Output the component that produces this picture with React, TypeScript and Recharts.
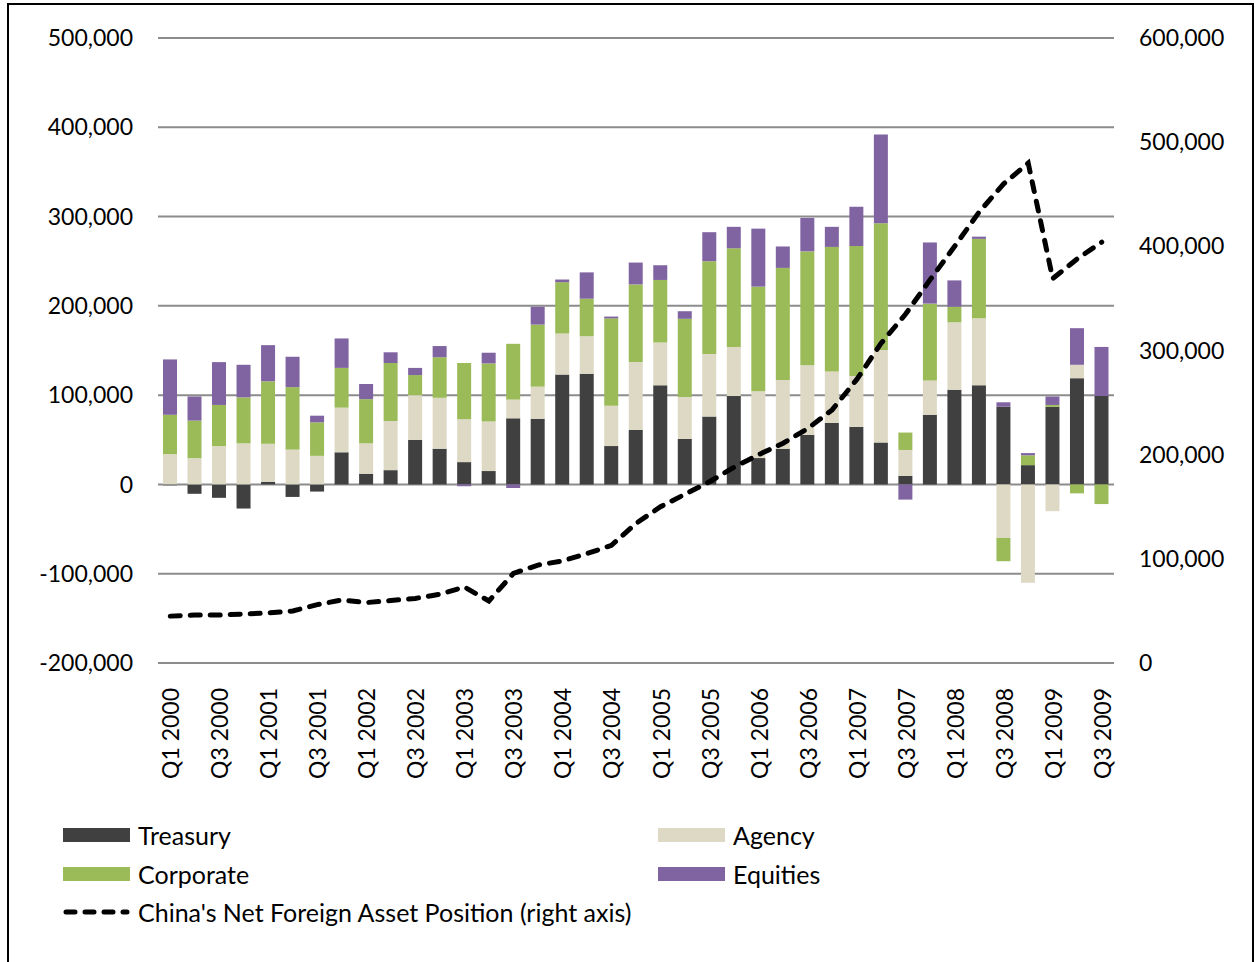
import { ComposedChart, Bar, Line, XAxis, YAxis, CartesianGrid } from "recharts";

const quarters = [
  "Q1 2000", "Q2 2000", "Q3 2000", "Q4 2000",
  "Q1 2001", "Q2 2001", "Q3 2001", "Q4 2001",
  "Q1 2002", "Q2 2002", "Q3 2002", "Q4 2002",
  "Q1 2003", "Q2 2003", "Q3 2003", "Q4 2003",
  "Q1 2004", "Q2 2004", "Q3 2004", "Q4 2004",
  "Q1 2005", "Q2 2005", "Q3 2005", "Q4 2005",
  "Q1 2006", "Q2 2006", "Q3 2006", "Q4 2006",
  "Q1 2007", "Q2 2007", "Q3 2007", "Q4 2007",
  "Q1 2008", "Q2 2008", "Q3 2008", "Q4 2008",
  "Q1 2009", "Q2 2009", "Q3 2009",
];

const treasury = [
  -1000, -10500, -15000, -27000, 3000, -14000, -8000, 36000, 12000, 16000,
  50000, 40000, 25000, 15000, 74000, 73500, 123000, 124000, 43000, 61000,
  111000, 51000, 76000, 99000, 29500, 40000, 55500, 69000, 64500, 47000,
  9600, 78000, 106000, 111000, 87000, 21600, 87000, 119000, 99000,
];

const agency = [
  34000, 29500, 43000, 46000, 42500, 39000, 32000, 50000, 34000, 55000,
  50000, 57000, 48000, 55500, 21000, 36000, 46000, 42000, 45000, 76000,
  48000, 47000, 70000, 55000, 75000, 77000, 78000, 57500, 57000, 103500,
  29000, 38500, 75500, 75000, -60000, -110000, -30000, 15000, 0,
];

const corporate = [
  44000, 42000, 46000, 51500, 70000, 70000, 37500, 44500, 49500, 65000,
  22500, 45500, 63000, 65000, 62500, 69500, 57500, 42000, 98000, 87000,
  70000, 87500, 104000, 110500, 117000, 125500, 127500, 139500, 145500, 142000,
  19500, 86000, 17500, 89000, -26000, 11000, 2000, -10000, -22000,
];

const equities = [
  62000, 27000, 48000, 36500, 40500, 34000, 7500, 33000, 17000, 12000,
  8000, 12500, -2000, 12000, -4000, 20000, 3000, 29500, 2000, 24500,
  16500, 8500, 32500, 24000, 65000, 24000, 37500, 22500, 44000, 99500,
  -17000, 68500, 29500, 2500, 5000, 2500, 9500, 41000, 55000,
];

// China's net foreign asset position, right axis
const netForeignAssets = [
  45000, 46000, 46000, 47000, 48000, 50000, 56000, 60500, 58000, 60000,
  62000, 66000, 73000, 59500, 86000, 94000, 98000, 105000, 113000, 134000,
  150000, 162000, 174000, 188000, 200000, 211000, 225000, 243000, 272000, 307000,
  335000, 368000, 400000, 433000, 460000, 480000, 369000, 388000, 404000,
];

const leftTicks = [-200000, -100000, 0, 100000, 200000, 300000, 400000, 500000];
const rightTicks = [0, 100000, 200000, 300000, 400000, 500000, 600000];

const data = quarters.map((q, i) => ({
  quarter: q,
  treasury: treasury[i],
  agency: agency[i],
  corporate: corporate[i],
  equities: equities[i],
  nfa: netForeignAssets[i],
}));

const FONT = "Lato, 'Open Sans', sans-serif";
const fmt = (v: number) => v.toLocaleString("en-US");

const QuarterTick = (props: any) => {
  const { x, y, payload } = props;
  return (
    <text
      x={x}
      y={y}
      transform={`rotate(-90 ${x} ${y})`}
      textAnchor="end"
      dominantBaseline="central"
      fontFamily={FONT}
      fontSize={23}
      fill="#000"
    >
      {payload.value}
    </text>
  );
};

const legendItems = [
  { name: "Treasury", color: "#404040", left: 63, top: 835 },
  { name: "Agency", color: "#ddd9c4", left: 658, top: 835 },
  { name: "Corporate", color: "#9bbb59", left: 63, top: 874 },
  { name: "Equities", color: "#8064a2", left: 658, top: 874 },
];

export default function App() {
  return (
    <div style={{ position: "absolute", left: 0, top: 0, width: 1255, height: 962, fontFamily: FONT }}>
      <div
        style={{
          position: "absolute",
          left: 7,
          top: 3,
          width: 1247,
          height: 959,
          border: "2px solid #000",
          borderBottom: "none",
          boxSizing: "border-box",
        }}
      />
      <div style={{ position: "absolute", left: 0, top: 0 }}>
        <ComposedChart
          width={1240}
          height={800}
          data={data}
          stackOffset="sign"
          margin={{ top: 38, right: 0, bottom: 17, left: 0 }}
        >
          <CartesianGrid yAxisId="left" vertical={false} stroke="#8c8c8c" strokeWidth={2} />
          <XAxis
            dataKey="quarter"
            interval={1}
            height={120}
            axisLine={false}
            tickLine={false}
            tickSize={0}
            tickMargin={25}
            tick={<QuarterTick />}
          />
          <YAxis
            yAxisId="left"
            width={158}
            domain={[-200000, 500000]}
            ticks={leftTicks}
            tickFormatter={fmt}
            axisLine={false}
            tickLine={false}
            tickSize={0}
            tickMargin={25}
            tick={{ fontFamily: FONT, fontSize: 23, fill: "#000" }}
          />
          <YAxis
            yAxisId="right"
            orientation="right"
            width={126}
            domain={[0, 600000]}
            ticks={rightTicks}
            tickFormatter={fmt}
            axisLine={false}
            tickLine={false}
            tickSize={0}
            tickMargin={25}
            tick={{ fontFamily: FONT, fontSize: 23, fill: "#000", textAnchor: "start" }}
          />
          <Bar yAxisId="left" dataKey="treasury" stackId="a" fill="#404040" barSize={14} isAnimationActive={false} />
          <Bar yAxisId="left" dataKey="agency" stackId="a" fill="#ddd9c4" barSize={14} isAnimationActive={false} />
          <Bar yAxisId="left" dataKey="corporate" stackId="a" fill="#9bbb59" barSize={14} isAnimationActive={false} />
          <Bar yAxisId="left" dataKey="equities" stackId="a" fill="#8064a2" barSize={14} isAnimationActive={false} />
          <Line
            yAxisId="right"
            type="linear"
            dataKey="nfa"
            stroke="#000"
            strokeWidth={5}
            strokeDasharray="10 10"
            strokeLinecap="round"
            dot={false}
            isAnimationActive={false}
          />
        </ComposedChart>
      </div>
      {legendItems.map((item) => (
        <div
          key={item.name}
          style={{ position: "absolute", left: item.left, top: item.top - 14, height: 28, display: "flex", alignItems: "center" }}
        >
          <div style={{ width: 67, height: 14, background: item.color }} />
          <span style={{ marginLeft: 8, fontSize: 25, color: "#000", whiteSpace: "nowrap" }}>{item.name}</span>
        </div>
      ))}
      <div style={{ position: "absolute", left: 63, top: 912 - 14, height: 28, display: "flex", alignItems: "center" }}>
        <svg width={67} height={10}>
          <line x1={3} y1={5} x2={64} y2={5} stroke="#000" strokeWidth={5} strokeDasharray="9 10" strokeLinecap="round" />
        </svg>
        <span style={{ marginLeft: 8, fontSize: 25, color: "#000", whiteSpace: "nowrap" }}>
          China's Net Foreign Asset Position (right axis)
        </span>
      </div>
    </div>
  );
}
